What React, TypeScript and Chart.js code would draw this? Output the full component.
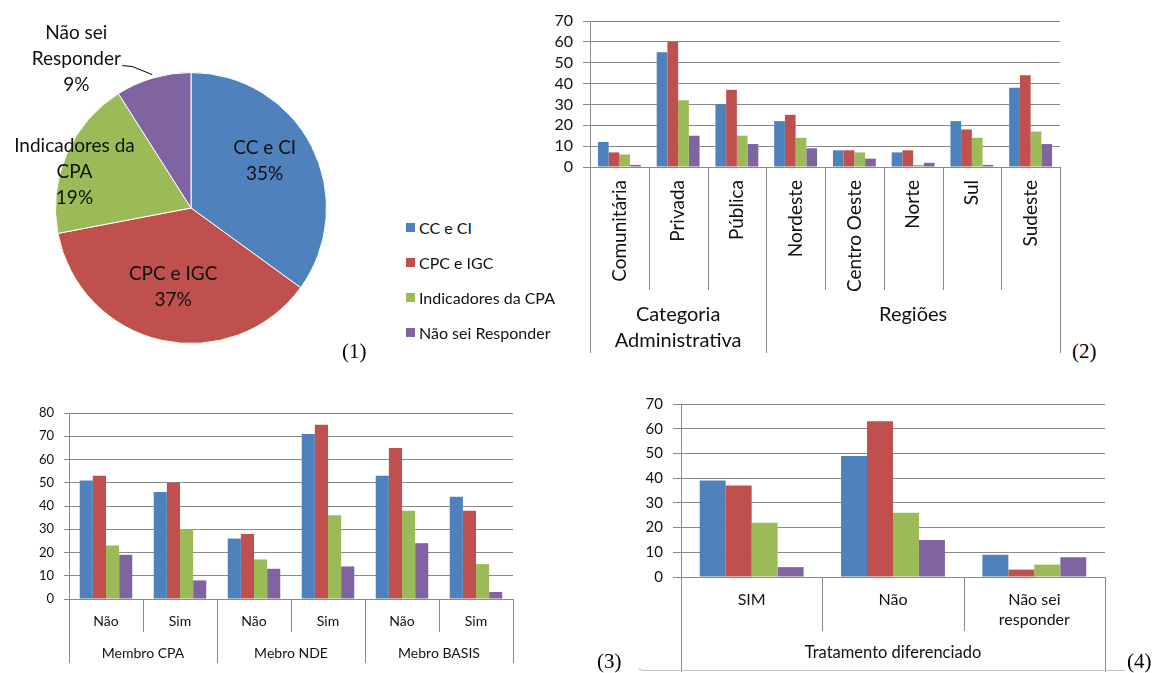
import React, { useEffect, useRef } from 'react';
import { Chart, registerables } from 'chart.js';

Chart.register(...registerables);

// ---------- shared ----------
const seriesNames = ['CC e CI', 'CPC e IGC', 'Indicadores da CPA', 'Não sei Responder'];
const seriesColors = ['#4F81BD', '#C0504D', '#9BBB59', '#8064A2'];

// ---------- chart 1 (pie) ----------
const pieLabels = [['CC e CI'], ['CPC e IGC'], ['Indicadores da', 'CPA'], ['Não sei', 'Responder']];
const pieValues = [35, 37, 19, 9];

// ---------- chart 2 ----------
const c2Categories = ['Comunitária', 'Privada', 'Pública', 'Nordeste', 'Centro Oeste', 'Norte', 'Sul', 'Sudeste'];
const c2GroupLabels = [['Categoria', 'Administrativa'], ['Regiões']];
const c2GroupSizes = [3, 5];
const c2CCeCI = [12, 55, 30, 22, 8, 7, 22, 38];
const c2CPCeIGC = [7, 60, 37, 25, 8, 8, 18, 44];
const c2Indicadores = [6, 32, 15, 14, 7, 1, 14, 17];
const c2NaoSei = [1, 15, 11, 9, 4, 2, 1, 11];
const c2YMax = 70;
const c2YStep = 10;

// ---------- chart 3 ----------
const c3Categories = ['Não', 'Sim', 'Não', 'Sim', 'Não', 'Sim'];
const c3GroupLabels = [['Membro CPA'], ['Mebro NDE'], ['Mebro BASIS']];
const c3GroupSizes = [2, 2, 2];
const c3CCeCI = [51, 46, 26, 71, 53, 44];
const c3CPCeIGC = [53, 50, 28, 75, 65, 38];
const c3Indicadores = [23, 30, 17, 36, 38, 15];
const c3NaoSei = [19, 8, 13, 14, 24, 3];
const c3YMax = 80;
const c3YStep = 10;

// ---------- chart 4 ----------
const c4Categories = [['SIM'], ['Não'], ['Não sei', 'responder']];
const c4GroupLabels = [['Tratamento diferenciado']];
const c4GroupSizes = [3];
const c4CCeCI = [39, 49, 9];
const c4CPCeIGC = [37, 63, 3];
const c4Indicadores = [22, 26, 5];
const c4NaoSei = [4, 15, 8];
const c4YMax = 70;
const c4YStep = 10;

const FONT = 'Lato, "Open Sans", sans-serif';
const GRID = '#8a8a8a';
const TXT = '#111111';

type BarSpec = {
  rect: { x: number; y: number; w: number; h: number };
  area: { l: number; t: number; r: number; b: number };
  categories: (string | string[])[];
  groupLabels: string[][];
  groupSizes: number[];
  series: number[][];
  yMax: number;
  yStep: number;
  catPct: number;
  tickFont: number;
  tickLen: number;
  tickPad: number;
  labelFont: number;
  groupFont: number;
  rotated: boolean;
  labelOffset: number;
  labelLineH: number;
  groupOffset: number;
  groupLineH: number;
  sepLen: number;
  groupSepLen: number;
};

function BarChart({ spec }: { spec: BarSpec }) {
  const ref = useRef<HTMLCanvasElement>(null);
  useEffect(() => {
    const s = spec;
    const axisPlugin = {
      id: 'multiAxis',
      afterDraw(chart: any) {
        const ctx = chart.ctx;
        const xs = chart.scales.x;
        const bottom = chart.chartArea.bottom;
        const n = s.categories.length;
        const w = xs.getPixelForValue(1) - xs.getPixelForValue(0);
        const bounds: number[] = [];
        for (let i = 0; i < n; i++) bounds.push(xs.getPixelForValue(i) - w / 2);
        bounds.push(xs.getPixelForValue(n - 1) + w / 2);
        const groupBounds = new Set<number>([0]);
        let acc = 0;
        s.groupSizes.forEach((g) => {
          acc += g;
          groupBounds.add(acc);
        });
        ctx.save();
        ctx.strokeStyle = GRID;
        ctx.lineWidth = 1;
        bounds.forEach((b, i) => {
          const len = groupBounds.has(i) ? s.groupSepLen : s.sepLen;
          const x = Math.round(b) + 0.5;
          ctx.beginPath();
          ctx.moveTo(x, bottom);
          ctx.lineTo(x, bottom + len);
          ctx.stroke();
        });
        ctx.fillStyle = TXT;
        ctx.font = `${s.labelFont}px ${FONT}`;
        s.categories.forEach((c, i) => {
          const cx = xs.getPixelForValue(i);
          const lines = Array.isArray(c) ? c : [c];
          if (s.rotated) {
            ctx.save();
            ctx.translate(cx, bottom + s.labelOffset);
            ctx.rotate(-Math.PI / 2);
            ctx.textAlign = 'right';
            ctx.textBaseline = 'middle';
            ctx.fillText(lines.join(' '), 0, 0);
            ctx.restore();
          } else {
            ctx.textAlign = 'center';
            ctx.textBaseline = 'middle';
            lines.forEach((ln, k) => ctx.fillText(ln, cx, bottom + s.labelOffset + k * s.labelLineH));
          }
        });
        ctx.font = `${s.groupFont}px ${FONT}`;
        ctx.textAlign = 'center';
        ctx.textBaseline = 'middle';
        let start = 0;
        s.groupLabels.forEach((gl, gi) => {
          const end = start + s.groupSizes[gi];
          const cx = (bounds[start] + bounds[end]) / 2;
          gl.forEach((ln, k) => ctx.fillText(ln, cx, bottom + s.groupOffset + k * s.groupLineH));
          start = end;
        });
        ctx.restore();
      },
    };
    const chart = new Chart(ref.current!, {
      type: 'bar',
      data: {
        labels: s.categories as any,
        datasets: seriesNames.map((name, k) => ({
          label: name,
          data: s.series[k],
          backgroundColor: seriesColors[k],
          borderWidth: 0,
          categoryPercentage: s.catPct,
          barPercentage: 1,
        })),
      },
      options: {
        responsive: false,
        animation: false,
        devicePixelRatio: 1,
        layout: {
          padding: { left: 0, bottom: 0, top: s.area.t - s.rect.y, right: s.rect.x + s.rect.w - s.area.r },
        },
        plugins: { legend: { display: false }, tooltip: { enabled: false } },
        scales: {
          x: {
            grid: { display: false },
            ticks: { display: false },
            border: { display: true, color: GRID, width: 1 },
            afterFit: (sc: any) => {
              sc.height = s.rect.y + s.rect.h - s.area.b;
            },
          },
          y: {
            min: 0,
            max: s.yMax,
            ticks: {
              stepSize: s.yStep,
              autoSkip: false,
              font: { family: FONT, size: s.tickFont },
              color: TXT,
              padding: s.tickPad,
            },
            grid: { color: GRID, tickLength: s.tickLen, drawTicks: true, lineWidth: 1 },
            border: { display: true, color: GRID, width: 1 },
            afterFit: (sc: any) => {
              sc.width = s.area.l - s.rect.x;
            },
          },
        },
      } as any,
      plugins: [axisPlugin],
    });
    return () => chart.destroy();
  }, [spec]);
  return (
    <canvas
      ref={ref}
      width={spec.rect.w}
      height={spec.rect.h}
      style={{ position: 'absolute', left: spec.rect.x, top: spec.rect.y, width: spec.rect.w, height: spec.rect.h }}
    />
  );
}

// label offsets in units of the pie radius (style, not data)
const pieLabelOffsets = [
  [0.544, -0.35],
  [-0.132, 0.58],
  [-0.86, -0.265],
  [-0.846, -1.1],
];
const pieLeader = [
  [-0.507, -1.051],
  [-0.434, -1.044],
  [-0.287, -0.985],
];

function PieChart() {
  const ref = useRef<HTMLCanvasElement>(null);
  useEffect(() => {
    const labelPlugin = {
      id: 'pieLabels',
      afterDatasetsDraw(chart: any) {
        const ctx = chart.ctx;
        const meta = chart.getDatasetMeta(0);
        ctx.save();
        ctx.fillStyle = TXT;
        ctx.font = `19px ${FONT}`;
        ctx.textAlign = 'center';
        ctx.textBaseline = 'middle';
        const lh = 26;
        meta.data.forEach((el: any, i: number) => {
          const { x, y, outerRadius } = el.getProps(['x', 'y', 'outerRadius'], true);
          const lines = [...pieLabels[i], `${pieValues[i]}%`];
          const cx = x + pieLabelOffsets[i][0] * outerRadius;
          const cy = y + pieLabelOffsets[i][1] * outerRadius;
          const top = cy - ((lines.length - 1) * lh) / 2;
          lines.forEach((ln, k) => ctx.fillText(ln, cx, top + k * lh));
          if (i === 3) {
            ctx.strokeStyle = '#000';
            ctx.lineWidth = 1;
            ctx.beginPath();
            pieLeader.forEach((p, k) => {
              const px = x + p[0] * outerRadius;
              const py = y + p[1] * outerRadius;
              if (k === 0) ctx.moveTo(px, py);
              else ctx.lineTo(px, py);
            });
            ctx.stroke();
          }
        });
        ctx.restore();
      },
    };
    const chart = new Chart(ref.current!, {
      type: 'pie',
      data: {
        labels: seriesNames,
        datasets: [{ data: pieValues, backgroundColor: seriesColors, borderColor: '#ffffff', borderWidth: 1 }],
      },
      options: {
        responsive: false,
        animation: false,
        devicePixelRatio: 1,
        layout: { padding: { left: 55, top: 72, right: 53, bottom: 26 } },
        plugins: { legend: { display: false }, tooltip: { enabled: false } },
      } as any,
      plugins: [labelPlugin],
    });
    return () => chart.destroy();
  }, []);
  return <canvas ref={ref} width={380} height={370} style={{ position: 'absolute', left: 0, top: 0, width: 380, height: 370 }} />;
}

const spec2: BarSpec = {
  rect: { x: 530, y: 0, w: 540, h: 360 },
  area: { l: 590, t: 21, r: 1060, b: 167 },
  categories: c2Categories,
  groupLabels: c2GroupLabels,
  groupSizes: c2GroupSizes,
  series: [c2CCeCI, c2CPCeIGC, c2Indicadores, c2NaoSei],
  yMax: c2YMax,
  yStep: c2YStep,
  catPct: 0.73,
  tickFont: 16,
  tickLen: 7,
  tickPad: 10,
  labelFont: 19,
  groupFont: 20,
  rotated: true,
  labelOffset: 13,
  labelLineH: 20,
  groupOffset: 148,
  groupLineH: 26,
  sepLen: 123,
  groupSepLen: 186,
};

const spec3: BarSpec = {
  rect: { x: 0, y: 395, w: 600, h: 278 },
  area: { l: 69, t: 413, r: 513, b: 599 },
  categories: c3Categories,
  groupLabels: c3GroupLabels,
  groupSizes: c3GroupSizes,
  series: [c3CCeCI, c3CPCeIGC, c3Indicadores, c3NaoSei],
  yMax: c3YMax,
  yStep: c3YStep,
  catPct: 0.71,
  tickFont: 13,
  tickLen: 5,
  tickPad: 10,
  labelFont: 14,
  groupFont: 14,
  rotated: false,
  labelOffset: 22,
  labelLineH: 20,
  groupOffset: 54,
  groupLineH: 20,
  sepLen: 33,
  groupSepLen: 64,
};

const spec4: BarSpec = {
  rect: { x: 630, y: 385, w: 534, h: 288 },
  area: { l: 681, t: 396, r: 1105, b: 577 },
  categories: c4Categories,
  groupLabels: c4GroupLabels,
  groupSizes: c4GroupSizes,
  series: [c4CCeCI, c4CPCeIGC, c4Indicadores, c4NaoSei],
  yMax: c4YMax,
  yStep: c4YStep,
  catPct: 0.735,
  tickFont: 15,
  tickLen: 8,
  tickPad: 10,
  labelFont: 16,
  groupFont: 16.5,
  rotated: false,
  labelOffset: 23,
  labelLineH: 20,
  groupOffset: 76,
  groupLineH: 20,
  sepLen: 54,
  groupSepLen: 95,
};

const panelTags = [
  { text: '(1)', x: 342, y: 340 },
  { text: '(2)', x: 1072, y: 340 },
  { text: '(3)', x: 597, y: 650 },
  { text: '(4)', x: 1127, y: 650 },
];

export default function App() {
  return (
    <div style={{ position: 'absolute', left: 0, top: 0, width: 1164, height: 673, background: '#fff', overflow: 'hidden' }}>
      <PieChart />
      <BarChart spec={spec2} />
      <BarChart spec={spec3} />
      <BarChart spec={spec4} />
      <div
        style={{
          position: 'absolute',
          left: 636,
          top: 655,
          width: 488,
          height: 15,
          borderBottom: '1px solid #c4c4c4',
          borderLeft: '1px solid transparent',
          borderBottomLeftRadius: 8,
        }}
      />
      {seriesNames.map((name, i) => (
        <div
          key={name}
          style={{
            position: 'absolute',
            left: 406,
            top: 218 + i * 35,
            height: 18,
            display: 'flex',
            alignItems: 'center',
            fontFamily: FONT,
            fontSize: 16,
            color: TXT,
            whiteSpace: 'nowrap',
          }}
        >
          <span style={{ display: 'inline-block', width: 9, height: 9, background: seriesColors[i], marginRight: 4 }} />
          {name}
        </div>
      ))}
      {panelTags.map((t) => (
        <div
          key={t.text}
          style={{
            position: 'absolute',
            left: t.x,
            top: t.y,
            fontFamily: '"Liberation Serif", "Times New Roman", serif',
            fontSize: 21,
            lineHeight: '22px',
            color: '#000',
          }}
        >
          {t.text}
        </div>
      ))}
    </div>
  );
}
